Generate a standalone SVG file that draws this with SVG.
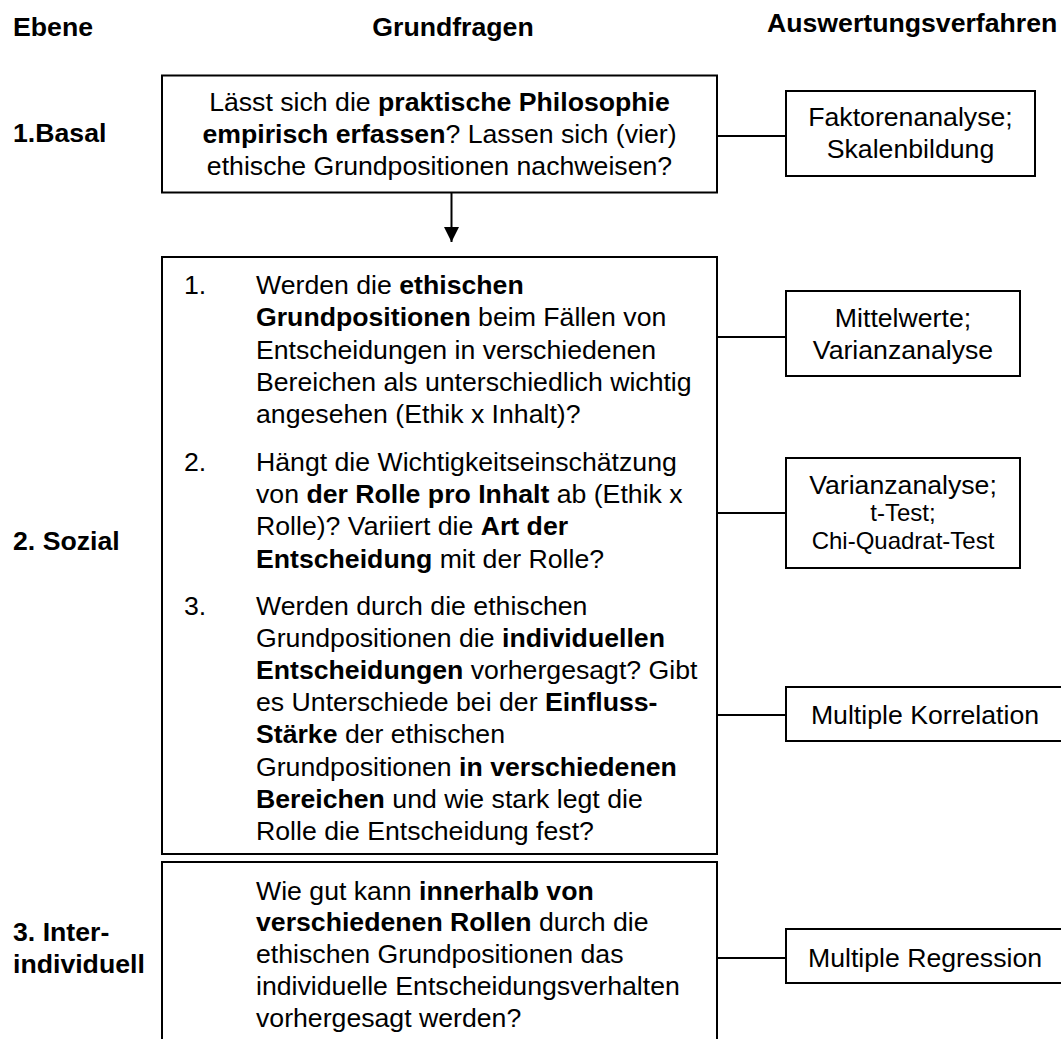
<svg xmlns="http://www.w3.org/2000/svg" width="1061" height="1039" viewBox="0 0 1061 1039">
<style>
text{font-family:"Liberation Sans",Arial,sans-serif;font-size:26.67px;fill:#000}
.h{font-weight:bold}
.b{font-weight:bold}
.c{text-anchor:middle}
.s{font-size:24px}
.box{fill:#fff;stroke:#000;stroke-width:2}
.ln{stroke:#000;stroke-width:2;fill:none}
</style>
<defs>
<marker id="ah" viewBox="0 0 10 10" refX="10" refY="5" markerWidth="7.5" markerHeight="8.5" markerUnits="strokeWidth" orient="auto"><path d="M0,0L10,5L0,10z" fill="#000"/></marker>
</defs>
<rect width="1061" height="1039" fill="#fff"/>
<g id="headers">
<text class="h" x="13" y="36">Ebene</text>
<text class="h c" x="453" y="36">Grundfragen</text>
<text class="h" x="767" y="32">Auswertungsverfahren</text>
</g>
<g id="levels">
<text class="h" x="13" y="142">1.Basal</text>
<text class="h" x="13" y="550">2. Sozial</text>
<text class="h" x="13" y="941">3. Inter-</text>
<text class="h" x="13" y="973">individuell</text>
</g>
<g id="connectors">
<line class="ln" x1="717" y1="136" x2="786" y2="136"/>
<line class="ln" x1="717" y1="337" x2="786" y2="337"/>
<line class="ln" x1="717" y1="513" x2="786" y2="513"/>
<line class="ln" x1="717" y1="715" x2="786" y2="715"/>
<line class="ln" x1="717" y1="958" x2="786" y2="958"/>
<line class="ln" x1="451.5" y1="193" x2="451.5" y2="242" marker-end="url(#ah)"/>
</g>
<g id="q1">
<rect class="box" x="162" y="75.5" width="555" height="117"/>
<text class="c" x="439.5" y="111">Lässt sich die <tspan class="b">praktische Philosophie</tspan></text>
<text class="c" x="439.5" y="143"><tspan class="b">empirisch erfassen</tspan>? Lassen sich (vier)</text>
<text class="c" x="439.5" y="175">ethische Grundpositionen nachweisen?</text>
</g>
<g id="q2">
<rect class="box" x="162" y="257" width="555" height="597"/>
<text x="184" y="294">1.</text>
<text x="256" y="294">Werden die <tspan class="b">ethischen</tspan></text>
<text x="256" y="326.3"><tspan class="b">Grundpositionen</tspan> beim Fällen von</text>
<text x="256" y="358.6">Entscheidungen in verschiedenen</text>
<text x="256" y="390.9">Bereichen als unterschiedlich wichtig</text>
<text x="256" y="423.2">angesehen (Ethik x Inhalt)?</text>
<text x="184" y="471">2.</text>
<text x="256" y="471">Hängt die Wichtigkeitseinschätzung</text>
<text x="256" y="503.2">von <tspan class="b">der Rolle pro Inhalt</tspan> ab (Ethik x</text>
<text x="256" y="535.4">Rolle)? Variiert die <tspan class="b">Art der</tspan></text>
<text x="256" y="567.6"><tspan class="b">Entscheidung</tspan> mit der Rolle?</text>
<text x="184" y="615">3.</text>
<text x="256" y="615">Werden durch die ethischen</text>
<text x="256" y="647.1">Grundpositionen die <tspan class="b">individuellen</tspan></text>
<text x="256" y="679.2"><tspan class="b">Entscheidungen</tspan> vorhergesagt? Gibt</text>
<text x="256" y="711.3">es Unterschiede bei der <tspan class="b">Einfluss-</tspan></text>
<text x="256" y="743.4"><tspan class="b">Stärke</tspan> der ethischen</text>
<text x="256" y="775.5">Grundpositionen <tspan class="b">in verschiedenen</tspan></text>
<text x="256" y="807.6"><tspan class="b">Bereichen</tspan> und wie stark legt die</text>
<text x="256" y="839.7">Rolle die Entscheidung fest?</text>
</g>
<g id="q3">
<rect class="box" x="162" y="862" width="555" height="190"/>
<text x="256" y="899.5">Wie gut kann <tspan class="b">innerhalb von</tspan></text>
<text x="256" y="931.3"><tspan class="b">verschiedenen Rollen</tspan> durch die</text>
<text x="256" y="963.1">ethischen Grundpositionen das</text>
<text x="256" y="994.9">individuelle Entscheidungsverhalten</text>
<text x="256" y="1026.7">vorhergesagt werden?</text>
</g>
<g id="m1">
<rect class="box" x="786" y="91" width="249" height="85"/>
<text class="c" x="910.5" y="126">Faktorenanalyse;</text>
<text class="c" x="910.5" y="158">Skalenbildung</text>
</g>
<g id="m2">
<rect class="box" x="786" y="291" width="234" height="85"/>
<text class="c" x="903" y="327">Mittelwerte;</text>
<text class="c" x="903" y="359">Varianzanalyse</text>
</g>
<g id="m3">
<rect class="box" x="786" y="458" width="234" height="110"/>
<text class="c" x="903" y="494">Varianzanalyse;</text>
<text class="c s" x="903" y="521">t-Test;</text>
<text class="c s" x="903" y="549">Chi-Quadrat-Test</text>
</g>
<g id="m4">
<rect class="box" x="786" y="687" width="278" height="54"/>
<text class="c" x="925" y="724">Multiple Korrelation</text>
</g>
<g id="m5">
<rect class="box" x="786" y="929" width="278" height="54"/>
<text class="c" x="925" y="967">Multiple Regression</text>
</g>
</svg>
